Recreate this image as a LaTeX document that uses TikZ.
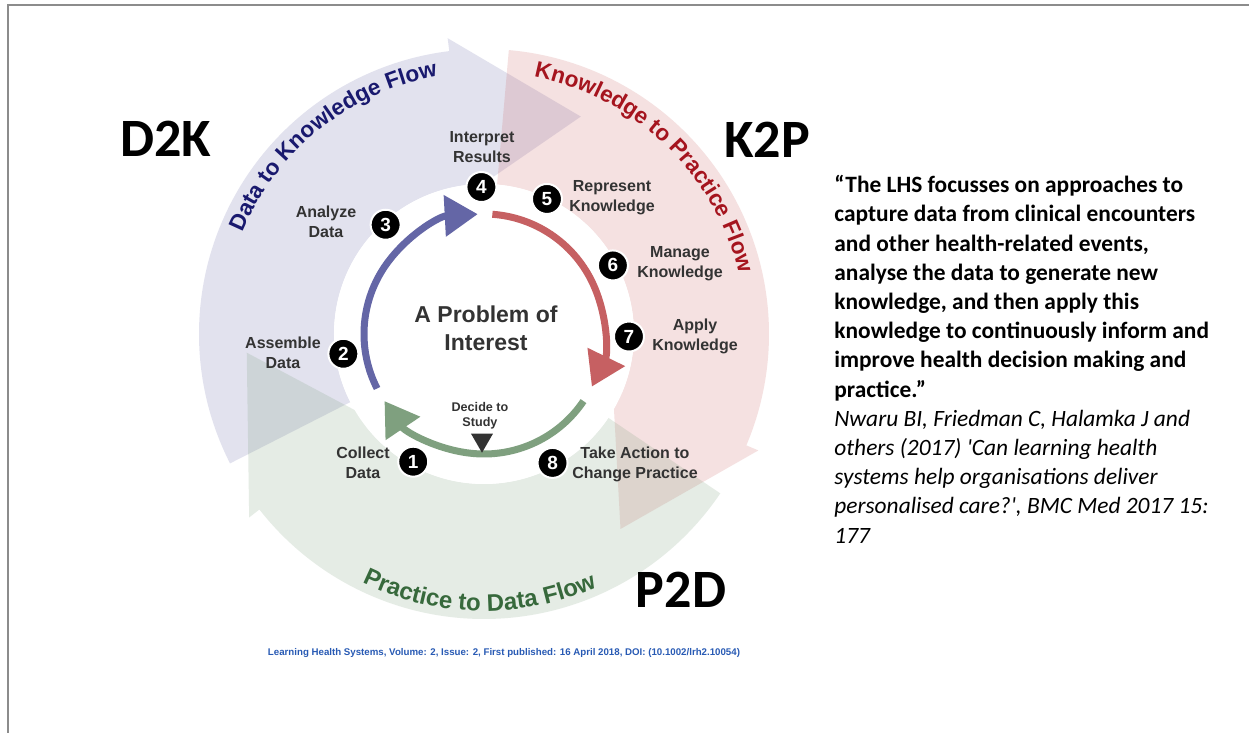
\documentclass[tikz,border=0pt]{standalone}
\usepackage{fontspec}
\setmainfont{Carlito}
\newfontfamily\arialfont{Liberation Sans}
\usepackage{tikz}
\usetikzlibrary{arrows.meta,decorations.text,shapes.geometric}

\definecolor{dtkblue}{RGB}{100,102,166}
\definecolor{ktpred}{RGB}{198,96,98}
\definecolor{ptdgreen}{RGB}{127,160,127}
\definecolor{dtkband}{RGB}{110,110,170}
\definecolor{ktpband}{RGB}{205,105,105}
\definecolor{ptdband}{RGB}{125,160,125}
\definecolor{dtktext}{RGB}{25,25,110}
\definecolor{ktptext}{RGB}{165,20,30}
\definecolor{ptdtext}{RGB}{55,105,60}
\definecolor{labelgray}{RGB}{51,51,51}
\definecolor{doiblue}{RGB}{40,90,180}
\definecolor{framegray}{RGB}{140,140,140}

\newcommand{\flowfont}{\arialfont\bfseries\fontsize{11.3}{13}\selectfont}
\newcommand{\refline}{\mdseries\itshape}
% wide arrow band: tail angle, head angle, tip angle
\newcommand{\flowband}[3]{(#1:150) -- (#1:285)
  arc[start angle=#1, end angle=#2, radius=285] -- (#2:298) -- (#3:238)
  -- (#2:140) -- (#2:150) arc[start angle=#2, end angle=#1, radius=150] -- cycle}

\begin{document}
\begin{tikzpicture}[x=0.5pt,y=0.5pt,>={Triangle[length=16.5pt,width=20pt]},
  ring/.style={line width=3.5pt},
  stepnum/.style={circle,fill=black,draw=white,line width=1pt,text=white,
    minimum size=15pt,inner sep=0pt,font=\arialfont\bfseries\fontsize{9.5}{10}\selectfont},
  steplabel/.style={align=center,text=labelgray,
    font=\arialfont\bfseries\fontsize{8}{10}\selectfont},
  big label/.style={font=\bfseries\fontsize{27}{30}\selectfont},
  flow text/.style={decorate,decoration={text along path,text align=center,text color=#1}}]

  \useasboundingbox (-484,-399) rectangle (765,334);
  \fill[white] (-484,-399) rectangle (765,334);
  \draw[framegray,line width=0.8pt] (-476,-399) -- (-476,329) -- (765,329);

  \fill[dtkband,fill opacity=0.2] \flowband{207}{97}{66};
  \fill[ktpband,fill opacity=0.2] \flowband{85}{-23}{-55};
  \fill[ptdband,fill opacity=0.2] \flowband{-34}{-142}{-175.5};
  \fill[white] (0,0) circle[radius=150];

  \path[flow text=dtktext,decoration={text={|\flowfont|Data to Knowledge Flow}}]
    (178.7:262) arc[start angle=178.7, end angle=78.7, radius=262];
  \path[flow text=ktptext,decoration={text={|\flowfont|Knowledge to Practice Flow}}]
    (96.2:262) arc[start angle=96.2, end angle=-3.8, radius=262];
  \path[flow text=ptdtext,decoration={text={|\arialfont\bfseries\fontsize{12}{14}\selectfont|Practice to Data Flow}}]
    (219:277) arc[start angle=219, end angle=319, radius=277];

  \draw[ring,dtkblue,->] (207:120) arc[start angle=207, end angle=93, radius=120];
  \draw[ring,ktpred,->] (86:120) arc[start angle=86, end angle=-26, radius=120];
  \draw[ring,ptdgreen,->] (-34:120) arc[start angle=-34, end angle=-146, radius=120];

  \node[stepnum] (101) at (241:146) {1};
  \node[stepnum] (102) at (188:142) {2};
  \node[stepnum] (103) at (132:147) {3};
  \node[stepnum] (104) at (91:147) {4};
  \node[stepnum] (105) at (65:149) {5};
  \node[stepnum] (106) at (28:146) {6};
  \node[stepnum] (107) at (-1:145) {7};
  \node[stepnum] (108) at (-62:146) {8};

  \node[steplabel] (201) at (-121,-129) {Collect\\Data};
  \node[steplabel] (202) at (-201,-19) {Assemble\\Data};
  \node[steplabel] (203) at (-158,112) {Analyze\\Data};
  \node[steplabel] (204) at (-2,187) {Interpret\\Results};
  \node[steplabel] (205) at (128,136) {Represent\\Knowledge};
  \node[steplabel] (206) at (196,70) {Manage\\Knowledge};
  \node[steplabel] (207) at (211,-2) {Apply\\Knowledge};
  \node[steplabel] (208) at (151,-130) {Take Action to\\Change Practice};

  \node[align=center,text=labelgray,font=\arialfont\bfseries\fontsize{11.5}{14}\selectfont]
    (problem) at (2,6) {A Problem of\\Interest};
  \node[steplabel,font=\arialfont\bfseries\fontsize{6.3}{7.5}\selectfont]
    (decide) at (-4,-82) {Decide to\\Study};
  \node[regular polygon,regular polygon sides=3,rotate=180,fill=labelgray,
    minimum size=12.7pt,inner sep=0pt] (studymark) at (-2,-106) {};

  \node[big label] (d2k) at (-318,195) {D2K};
  \node[big label] (k2p) at (283,194) {K2P};
  \node[big label] (p2d) at (197,-256) {P2D};

  \node[anchor=north west,inner sep=0pt,align=left,
    font=\bfseries\fontsize{11.7}{14.6}\selectfont] (quote) at (350,159)
    {“The LHS focusses on approaches to\\
     capture data from clinical encounters\\
     and other health-related events,\\
     analyse the data to generate new\\
     knowledge, and then apply this\\
     knowledge to continuously inform and\\
     improve health decision making and\\
     practice.”\\
     \refline Nwaru BI, Friedman C, Halamka J and\\
     \refline others (2017) \textquotesingle Can learning health\\
     \refline systems help organisations deliver\\
     \refline personalised care?\textquotesingle, BMC Med 2017 15:\\
     \refline 177};

  \node[text=doiblue,font=\arialfont\bfseries\fontsize{4.85}{5.5}\selectfont] (doi) at (20,-319)
    {Learning Health Systems, Volume: 2, Issue: 2, First published: 16 April 2018, DOI: (10.1002/lrh2.10054)};

\end{tikzpicture}
\end{document}
